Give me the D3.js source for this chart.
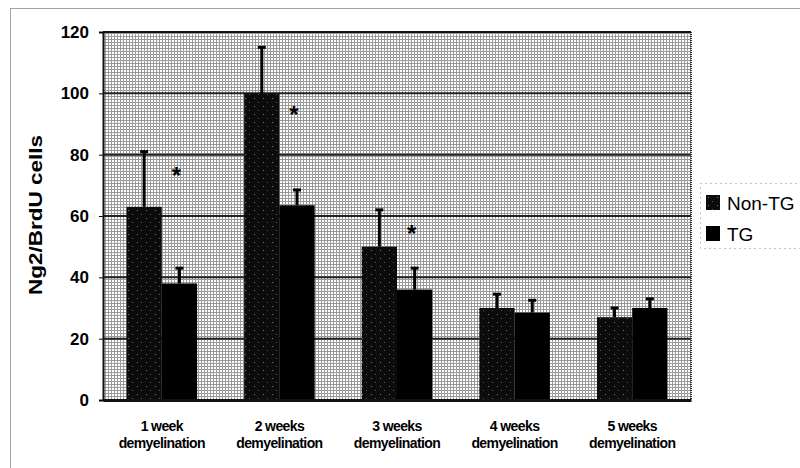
<!DOCTYPE html>
<html>
<head>
<meta charset="utf-8">
<script src="https://cdn.jsdelivr.net/npm/d3@7"></script>
<style>
  body { margin: 0; background: #fff; }
  text { font-family: "Liberation Sans", Arial, sans-serif; }
</style>
</head>
<body>
<script>
// chart data
var weeks = ["1 week", "2 weeks", "3 weeks", "4 weeks", "5 weeks"];
var series = ["Non-TG", "TG"];
var nonTG = [63, 100, 50, 30, 27];
var nonTGErr = [18, 15, 12, 4.5, 3];
var tg = [38, 63.5, 36, 28.5, 30];
var tgErr = [5, 5, 7, 4, 3];
var starAt = [74, 94, 55, null, null];   // asterisk height over the TG bar
var yTicks = [0, 20, 40, 60, 80, 100, 120];

var W = 800, H = 468;
var plot = {left: 103, right: 691, top: 32, bottom: 400};

var svg = d3.select("body").append("svg")
  .attr("width", W)
  .attr("height", H);

// patterns to mimic the scanned halftone
var defs = svg.append("defs");
var bgPat = defs.append("pattern").attr("id", "bgpat")
  .attr("width", 3).attr("height", 3).attr("patternUnits", "userSpaceOnUse");
bgPat.append("rect").attr("width", 3).attr("height", 3).attr("fill", "#fff");
bgPat.append("rect").attr("width", 3).attr("height", 1).attr("fill", "#9a9a9a");
bgPat.append("rect").attr("width", 1).attr("height", 3).attr("fill", "#9a9a9a");

var darkPat = defs.append("pattern").attr("id", "darkpat")
  .attr("width", 9).attr("height", 8).attr("patternUnits", "userSpaceOnUse");
darkPat.append("rect").attr("width", 9).attr("height", 8).attr("fill", "#0c0c0c");
darkPat.append("rect").attr("x", 2).attr("y", 2).attr("width", 1).attr("height", 1).attr("fill", "#777");
darkPat.append("rect").attr("x", 6).attr("y", 6).attr("width", 1).attr("height", 1).attr("fill", "#555");

// outer frame
svg.append("rect")
  .attr("x", 10.5).attr("y", 8.5)
  .attr("width", 800).attr("height", 480)
  .attr("fill", "none")
  .attr("stroke", "#444")
  .attr("stroke-dasharray", "1,1");

var x = d3.scaleBand()
  .domain(weeks)
  .range([plot.left, plot.right])
  .paddingInner(0.4)
  .paddingOuter(0.2);

var xs = d3.scaleBand()
  .domain(series)
  .range([0, x.bandwidth()]);

var y = d3.scaleLinear()
  .domain([0, 120])
  .range([plot.bottom, plot.top]);

// plot background
svg.append("rect")
  .attr("x", plot.left).attr("y", plot.top)
  .attr("width", plot.right - plot.left)
  .attr("height", plot.bottom - plot.top)
  .attr("fill", "url(#bgpat)");

// gridlines
svg.append("g")
  .selectAll("line")
  .data(yTicks.filter(function(d) { return d > 0; }))
  .enter().append("line")
  .attr("x1", plot.left).attr("x2", plot.right)
  .attr("y1", function(d) { return y(d); })
  .attr("y2", function(d) { return y(d); })
  .attr("stroke", "#222")
  .attr("stroke-width", 2);

// right border of plot
svg.append("line")
  .attr("x1", plot.right).attr("x2", plot.right)
  .attr("y1", plot.top).attr("y2", plot.bottom)
  .attr("stroke", "#333").attr("stroke-width", 2)
  .attr("stroke-dasharray", "1,1");

var rows = weeks.map(function(w, i) {
  return [
    {week: w, s: "Non-TG", v: nonTG[i], e: nonTGErr[i]},
    {week: w, s: "TG", v: tg[i], e: tgErr[i]}
  ];
});
var flat = [].concat.apply([], rows);

// error bars (drawn first, upper half shows above bar)
var err = svg.append("g").selectAll("g")
  .data(flat)
  .enter().append("g");

err.append("line")
  .attr("x1", function(d) { return x(d.week) + xs(d.s) + xs.bandwidth() / 2; })
  .attr("x2", function(d) { return x(d.week) + xs(d.s) + xs.bandwidth() / 2; })
  .attr("y1", function(d) { return y(d.v); })
  .attr("y2", function(d) { return y(d.v + d.e); })
  .attr("stroke", "#000").attr("stroke-width", 3);

err.append("line")
  .attr("x1", function(d) { return x(d.week) + xs(d.s) + xs.bandwidth() / 2 - 4; })
  .attr("x2", function(d) { return x(d.week) + xs(d.s) + xs.bandwidth() / 2 + 4; })
  .attr("y1", function(d) { return y(d.v + d.e); })
  .attr("y2", function(d) { return y(d.v + d.e); })
  .attr("stroke", "#000").attr("stroke-width", 3);

// bars
svg.append("g").selectAll("rect")
  .data(flat)
  .enter().append("rect")
  .attr("x", function(d) { return x(d.week) + xs(d.s); })
  .attr("y", function(d) { return y(d.v); })
  .attr("width", xs.bandwidth())
  .attr("height", function(d) { return y(0) - y(d.v); })
  .attr("fill", function(d) { return d.s == "TG" ? "#000" : "url(#darkpat)"; });

// significance marks
svg.append("g").selectAll("text")
  .data(weeks.map(function(w, i) { return {week: w, v: starAt[i]}; }).filter(function(d) { return d.v != null; }))
  .enter().append("text")
  .attr("x", function(d) { return x(d.week) + xs("TG") + xs.bandwidth() / 2 - 3; })
  .attr("y", function(d) { return y(d.v) + 11; })
  .attr("text-anchor", "middle")
  .style("font-size", "24px")
  .style("font-weight", "bold")
  .text("*");

// axes
svg.append("line")
  .attr("x1", plot.left).attr("x2", plot.right)
  .attr("y1", plot.top).attr("y2", plot.top)
  .attr("stroke", "#111").attr("stroke-width", 2);

var yAxis = d3.axisLeft(y).tickValues(yTicks).tickSize(4).tickPadding(10);
var gy = svg.append("g")
  .attr("transform", "translate(" + plot.left + ",0)")
  .call(yAxis);
gy.select(".domain").attr("stroke", "#111").attr("stroke-width", 2);
gy.selectAll("text")
  .style("font-size", "17px")
  .style("font-weight", "bold")
  .style("font-family", "'Liberation Sans', Arial, sans-serif")
  .attr("fill", "#000");

var xAxis = d3.axisBottom(x).tickSize(0).tickFormat("");
var gx = svg.append("g")
  .attr("transform", "translate(0," + plot.bottom + ")")
  .call(xAxis);
gx.select(".domain").attr("stroke", "#111").attr("stroke-width", 3);

var xl = svg.append("g").selectAll("text")
  .data(weeks)
  .enter().append("text")
  .attr("x", function(d) { return x(d) + x.bandwidth() / 2; })
  .attr("y", 431)
  .attr("text-anchor", "middle")
  .style("font-size", "14px")
  .style("font-weight", "bold")
  .style("letter-spacing", "-0.6px");
xl.append("tspan").text(function(d) { return d; });
xl.append("tspan")
  .attr("x", function(d) { return x(d) + x.bandwidth() / 2; })
  .attr("dy", 17)
  .text("demyelination");

svg.append("text")
  .attr("transform", "translate(42,215) rotate(-90)")
  .attr("text-anchor", "middle")
  .attr("textLength", 160)
  .attr("lengthAdjust", "spacingAndGlyphs")
  .style("font-size", "18px")
  .style("font-weight", "bold")
  .text("Ng2/BrdU cells");

// legend
var lg = svg.append("g");
lg.append("rect")
  .attr("x", 700.5).attr("y", 183.5)
  .attr("width", 110).attr("height", 65)
  .attr("fill", "#fff")
  .attr("stroke", "#888")
  .attr("stroke-dasharray", "1,4");

var li = lg.selectAll("g")
  .data(series)
  .enter().append("g")
  .attr("transform", function(d, i) { return "translate(706," + (195 + i * 31) + ")"; });
li.append("rect")
  .attr("width", 14).attr("height", 15)
  .attr("fill", function(d) { return d == "TG" ? "#000" : "url(#darkpat)"; });
li.append("text")
  .attr("x", 21).attr("y", 15)
  .style("font-size", "19px")
  .text(function(d) { return d; });
</script>
</body>
</html>
